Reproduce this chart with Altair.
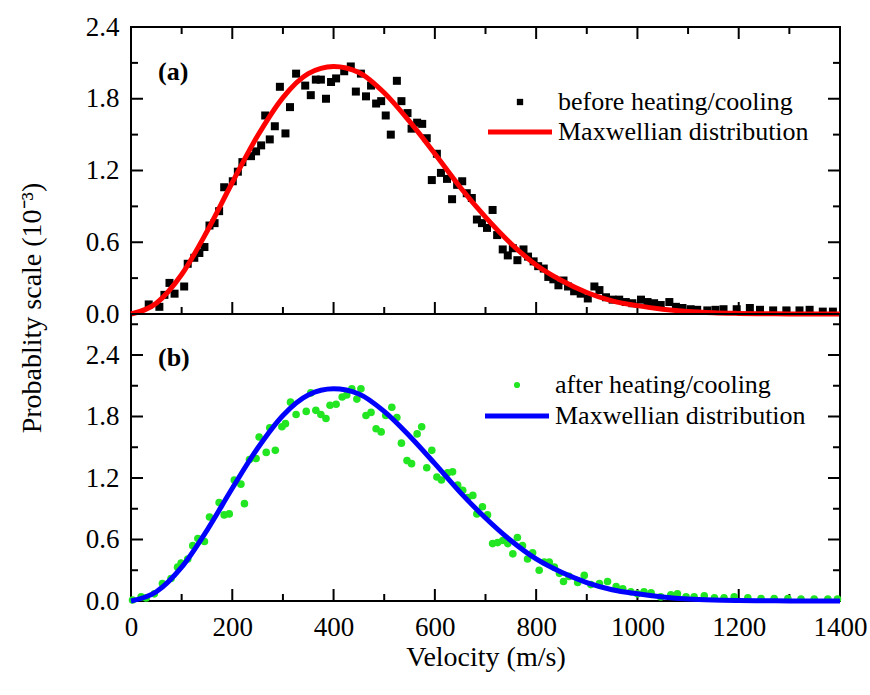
import altair as alt
import pandas as pd

FONT = "Liberation Serif"

# ---------------- data (units 10^-3) ----------------
x_major = [0, 200, 400, 600, 800, 1000, 1200, 1400]
x_minor = [100, 300, 500, 700, 900, 1100, 1300]
y_major = [0.0, 0.6, 1.2, 1.8, 2.4]
y_minor_a = [0.3, 0.9, 1.5, 2.1]
y_minor_b = [0.3, 0.9, 1.5, 2.1, 2.7]

curve_v = [0, 50, 100, 150, 200, 250, 300, 350, 400, 450, 500, 550, 600, 650, 700,
           750, 800, 850, 900, 950, 1000, 1050, 1100, 1150, 1200, 1250, 1300, 1350, 1400]
curve_p = [0, 0.09, 0.33, 0.69, 1.10, 1.49, 1.81, 2.01, 2.07, 2.02, 1.85, 1.61, 1.34, 1.06, 0.81,
           0.59, 0.41, 0.28, 0.18, 0.11, 0.07, 0.04, 0.02, 0.01, 0.005, 0.002, 0.001, 0, 0]

before_v = [35, 56, 66, 76, 86, 105, 112, 125, 135, 145,
            155, 165, 174, 184, 201, 211, 220, 237, 247, 257,
            265, 274, 284, 294, 305, 314, 326, 344, 355, 365,
            375, 385, 395, 405, 421, 434, 444, 454, 464, 474,
            484, 494, 503, 513, 525, 534, 546, 554, 565, 575,
            584, 594, 604, 612, 624, 634, 644, 654, 663, 673,
            683, 693, 703, 714, 723, 734, 744, 754, 763, 775,
            784, 795, 804, 815, 824, 834, 844, 854, 863, 875,
            888, 902, 915, 925, 938, 951, 964, 977, 990, 1007,
            1020, 1033, 1046, 1063, 1076, 1089, 1105, 1118, 1138, 1154,
            1170, 1196, 1222, 1242, 1268, 1294, 1320, 1340, 1366, 1386]
before_p = [0.08, 0.06, 0.16, 0.26, 0.17, 0.23, 0.42, 0.47, 0.51, 0.56,
            0.74, 0.76, 0.86, 1.06, 1.11, 1.19, 1.27, 1.32, 1.36, 1.41,
            1.66, 1.46, 1.57, 1.90, 1.51, 1.73, 2.01, 1.91, 1.83, 1.96,
            1.96, 1.80, 1.94, 1.97, 2.03, 2.07, 1.86, 2.01, 1.82, 1.91,
            1.76, 1.78, 1.66, 1.50, 1.95, 1.78, 1.68, 1.55, 1.60, 1.59,
            1.47, 1.12, 1.34, 1.18, 1.13, 0.96, 1.08, 1.11, 1.01, 0.97,
            0.79, 0.76, 0.72, 0.87, 0.66, 0.54, 0.49, 0.55, 0.45, 0.54,
            0.48, 0.44, 0.40, 0.38, 0.31, 0.29, 0.24, 0.28, 0.23, 0.19,
            0.17, 0.13, 0.23, 0.20, 0.14, 0.12, 0.12, 0.10, 0.09, 0.12,
            0.10, 0.09, 0.075, 0.10, 0.06, 0.05, 0.04, 0.035, 0.03, 0.035,
            0.04, 0.04, 0.05, 0.035, 0.03, 0.03, 0.03, 0.035, 0.02, 0.02]

after_v = [3, 20, 30, 46, 62, 79, 92, 99, 112, 122,
           132, 145, 155, 174, 184, 194, 204, 217, 224, 234,
           247, 253, 267, 274, 285, 298, 305, 315, 326, 346,
           355, 365, 375, 385, 393, 405, 417, 426, 436, 446,
           454, 464, 474, 484, 494, 503, 515, 525, 534, 545,
           554, 565, 574, 584, 594, 604, 613, 625, 635, 645,
           655, 665, 675, 683, 694, 704, 714, 724, 734, 744,
           754, 763, 773, 783, 793, 806, 816, 826, 836, 846,
           854, 865, 882, 895, 908, 925, 941, 958, 971, 987,
           1000, 1013, 1027, 1046, 1066, 1079, 1096, 1112, 1132, 1152,
           1171, 1191, 1218, 1244, 1270, 1297, 1323, 1349, 1376, 1395]
after_p = [0.01, 0.04, 0.03, 0.07, 0.17, 0.22, 0.33, 0.37, 0.41, 0.54,
           0.61, 0.58, 0.82, 0.96, 0.84, 0.85, 1.18, 1.14, 0.95, 1.38,
           1.39, 1.60, 1.45, 1.69, 1.47, 1.70, 1.73, 1.94, 1.82, 1.85,
           2.03, 1.86, 1.82, 1.78, 1.91, 1.92, 1.99, 2.01, 2.07, 1.97,
           2.07, 1.81, 1.84, 1.68, 1.65, 1.81, 1.89, 1.79, 1.54, 1.37,
           1.34, 1.63, 1.70, 1.30, 1.47, 1.21, 1.18, 1.25, 1.26, 1.13,
           1.08, 1.01, 1.03, 0.85, 0.92, 0.84, 0.56, 0.57, 0.59, 0.56,
           0.46, 0.62, 0.54, 0.41, 0.47, 0.30, 0.38, 0.38, 0.33, 0.27,
           0.19, 0.24, 0.18, 0.25, 0.16, 0.17, 0.19, 0.14, 0.12, 0.09,
           0.07, 0.09, 0.08, 0.04, 0.06, 0.07, 0.04, 0.04, 0.05, 0.03,
           0.03, 0.04, 0.03, 0.025, 0.025, 0.025, 0.02, 0.02, 0.02, 0.02]

legend_a = ["before heating/cooling", "Maxwellian distribution"]
legend_b = ["after heating/cooling", "Maxwellian distribution"]
panel_labels = ["(a)", "(b)"]
x_title = "Velocity (m/s)"
y_title = "Probablity scale (10\u207b\u00b3)"

# ---------------- layout / style ----------------
W, H = 709, 287
MAJ, MIN = 12, 7
GREEN = "#22e622"

xs = alt.Scale(domain=[0, 1400], nice=False, zero=False)
ys_a = alt.Scale(domain=[0, 2.4], nice=False)
ys_b = alt.Scale(domain=[0, 2.8], nice=False)

x_axis_b = alt.Axis(values=x_major, title=x_title, labelFlush=False, labelPadding=13,
                    titlePadding=3, format="d")


def y_axis():
    return alt.Axis(values=y_major, title=None, format=".1f", labelPadding=12)


def one(text):
    return pd.DataFrame({"t": [text]})


def ticks(ys, y_minor, xaxis, top_ticks):
    out = []
    for vals, L in ((x_major, MAJ), (x_minor, MIN)):
        df = pd.DataFrame({"t": vals})
        out.append(alt.Chart(df).mark_rule(color="black", strokeWidth=2).encode(
            x=alt.X("t:Q", scale=xs, axis=xaxis), y=alt.value(H), y2=alt.value(H - L)))
        if top_ticks:
            out.append(alt.Chart(df).mark_rule(color="black", strokeWidth=2).encode(
                x=alt.X("t:Q", scale=xs, axis=xaxis), y=alt.value(0), y2=alt.value(L)))
    for vals, L in ((y_major, MAJ), (y_minor, MIN)):
        df = pd.DataFrame({"t": vals})
        out.append(alt.Chart(df).mark_rule(color="black", strokeWidth=2).encode(
            y=alt.Y("t:Q", scale=ys, axis=y_axis()), x=alt.value(0), x2=alt.value(L)))
        out.append(alt.Chart(df).mark_rule(color="black", strokeWidth=2).encode(
            y=alt.Y("t:Q", scale=ys, axis=y_axis()), x=alt.value(W), x2=alt.value(W - L)))
    return out


def panel(pv, pp, ys, y_minor, xaxis, marker, color, line_color, legend, label,
          top_ticks, extra):
    pts_df = pd.DataFrame({"v": pv, "p": pp})
    cur_df = pd.DataFrame({"v": curve_v, "p": curve_p})
    if marker == "square":
        pts = alt.Chart(pts_df).mark_point(shape="square", filled=True, size=64,
                                           color=color, opacity=1)
        leg_pt = alt.Chart(one(legend[0])).mark_point(shape="square", filled=True, size=40,
                                                      color=color, opacity=1)
    else:
        pts = alt.Chart(pts_df).mark_point(shape="circle", filled=True, size=58,
                                           color=color, opacity=1)
        leg_pt = alt.Chart(one(legend[0])).mark_point(shape="circle", filled=True, size=38,
                                                      color=color, opacity=1)
    pts = pts.encode(x=alt.X("v:Q", scale=xs, axis=xaxis),
                     y=alt.Y("p:Q", scale=ys, axis=y_axis()))
    line = alt.Chart(cur_df).mark_line(color=line_color, strokeWidth=5,
                                       interpolate="monotone").encode(
        x=alt.X("v:Q", scale=xs, axis=xaxis), y=alt.Y("p:Q", scale=ys, axis=y_axis()))

    lx = extra["lx"]
    ly1 = extra["ly1"]
    ly2 = extra["ly2"]
    txt_style = dict(font=FONT, fontSize=26, align="left", baseline="middle", color="black")
    leg_pt = leg_pt.encode(x=alt.value(lx - 38), y=alt.value(ly1))
    leg_t1 = alt.Chart(one(legend[0])).mark_text(**txt_style).encode(
        text="t:N", x=alt.value(lx), y=alt.value(ly1))
    leg_line = alt.Chart(one(legend[1])).mark_rule(color=line_color, strokeWidth=5).encode(
        x=alt.value(lx - 70), x2=alt.value(lx - 6), y=alt.value(ly2))
    leg_t2 = alt.Chart(one(legend[1])).mark_text(**txt_style).encode(
        text="t:N", x=alt.value(lx), y=alt.value(ly2))
    lab = alt.Chart(one(label)).mark_text(font=FONT, fontSize=26, fontWeight="bold",
                                         align="left", baseline="middle",
                                         color="black").encode(
        text="t:N", x=alt.value(27), y=alt.value(extra["laby"]))

    layers = ticks(ys, y_minor, xaxis, top_ticks) + [pts, line, leg_pt, leg_t1, leg_line,
                                                      leg_t2, lab]
    if extra.get("ytitle"):
        layers.append(alt.Chart(one(y_title)).mark_text(
            font=FONT, fontSize=28, angle=270, align="center", baseline="middle",
            color="black").encode(text="t:N", x=alt.value(-98), y=alt.value(H - 6)))
    return alt.layer(*layers).properties(width=W, height=H)


top = panel(before_v, before_p, ys_a, y_minor_a, None, "square", "black", "#ff0000",
            legend_a, panel_labels[0], True,
            {"lx": 427, "ly1": 75, "ly2": 105, "laby": 45, "ytitle": True})
bottom = panel(after_v, after_p, ys_b, y_minor_b, x_axis_b, "circle", GREEN, "#0000ff",
               legend_b, panel_labels[1], False,
               {"lx": 424, "ly1": 71, "ly2": 102, "laby": 44})

chart = alt.vconcat(top, bottom, spacing=0, bounds="flush").properties(
    padding={"left": 18, "top": 12, "right": 1, "bottom": 5}
).configure_view(stroke="black", strokeWidth=2).configure_axis(
    labelFont=FONT, labelFontSize=27, labelColor="black",
    titleFont=FONT, titleFontSize=28, titleFontWeight="normal", titleColor="black",
    ticks=False, tickSize=0, domain=False, grid=False
)

chart.save("out.html", embed_options={"renderer": "svg", "actions": False})
